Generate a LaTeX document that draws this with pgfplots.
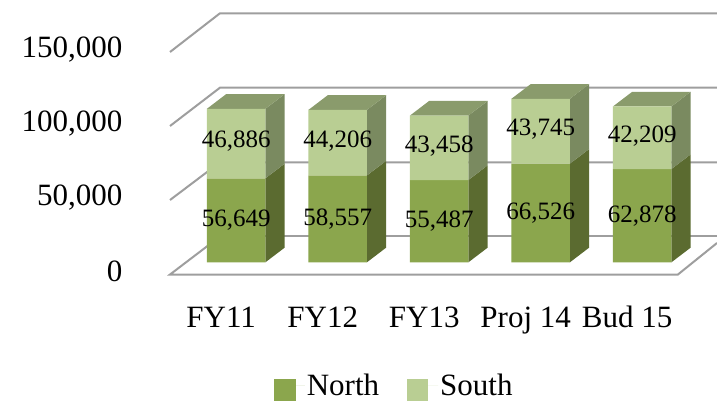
\documentclass[border=0pt]{standalone}
\usepackage{fontspec}
\setmainfont{Liberation Serif}
\usepackage{pgfplots}
\usepackage{pgfplotstable}
\pgfplotsset{compat=1.18}
\definecolor{northc}{HTML}{8BA64D}
\definecolor{southc}{HTML}{B9CE93}
\definecolor{northside}{HTML}{5B6B30}
\definecolor{southside}{HTML}{7A8A60}
\definecolor{topc}{HTML}{8A9B6C}
\definecolor{gridc}{HTML}{9E9E9E}
\pgfplotstableread{
x north south
0 56649 46886
1 58557 44206
2 55487 43458
3 66526 43745
4 62878 42209
}\budget
% one polygon of a bar's depth, with y given in thousands
\newcommand\facet[9]{%
  \edef\tmp{\noexpand\addplot[fill=#1,draw=none,forget plot] coordinates
    {(#2,#3e3)(#4,#5e3)(#6,#7e3)(#8,#9e3)} --cycle;}\tmp}
% side and top faces of a stacked bar: position, north and south in thousands
\newcommand\depth[3]{%
  \pgfmathsetmacro\xr{#1+0.288}\pgfmathsetmacro\xl{#1-0.288}%
  \pgfmathsetmacro\xrd{\xr+0.19}\pgfmathsetmacro\xld{\xl+0.19}%
  \pgfmathsetmacro\ya{#2}\pgfmathsetmacro\yb{#2+#3}%
  \pgfmathsetmacro\yz{9.912}\pgfmathsetmacro\yae{\ya+9.912}\pgfmathsetmacro\ybe{\yb+9.912}%
  \facet{northside}{\xr}{0}{\xrd}{\yz}{\xrd}{\yae}{\xr}{\ya}%
  \facet{southside}{\xr}{\ya}{\xrd}{\yae}{\xrd}{\ybe}{\xr}{\yb}%
  \facet{topc}{\xl}{\yb}{\xr}{\yb}{\xrd}{\ybe}{\xld}{\ybe}}
\begin{document}
\begin{tikzpicture}
\path[use as bounding box] (-126pt,-101pt) rectangle (591pt,300pt);
\begin{axis}[
  at={(0,0)},anchor=south west,
  scale only axis,width=591pt,height=300pt,
  xmin=-1.0857,xmax=4.737,ymin=-25421,ymax=176871,
  axis line style={draw=none},
  tick style={draw=none},
  xtick={0,1,2,3,4},
  xticklabels={FY11,FY12,FY13,Proj 14,Bud 15},
  ytick={0,50000,100000,150000},
  scaled y ticks=false,
  /pgf/number format/fixed,
  /pgf/number format/precision=0,
  /pgf/number format/assume math mode=true,
  /pgf/number format/1000 sep={,},
  yticklabel style={font=\fontsize{31}{33}\selectfont,yshift=-9.5pt,xshift=0pt,anchor=east},
  xticklabel style={font=\fontsize{31}{33}\selectfont,xshift=-15pt,yshift=-28pt,anchor=base,text height=0pt},
  legend columns=2,
  legend style={draw=none,fill=none,at={(axis cs:0.369,-93800)},anchor=south west,
    font=\fontsize{31}{33}\selectfont,inner sep=0pt,
    /tikz/every even column/.append style={column sep=26pt}},
]
% wall and floor rules behind the bars
\addplot[gridc,line width=2pt,forget plot] coordinates {(-0.652,42010)(-0.160,67431)(4.737,67431)};
\addplot[gridc,line width=2pt,forget plot] coordinates {(-0.652,91908)(-0.160,117734)(4.737,117734)};
\addplot[gridc,line width=2pt,forget plot] coordinates {(-0.652,141807)(-0.160,167903)(4.737,167903)};
\addplot[gridc,line width=2pt,forget plot] coordinates {(-0.160,17397)(4.737,17397)};
\addplot[gridc,line width=2pt,forget plot] coordinates {(-0.160,17397)(-0.652,-8227)(4.352,-8227)(4.737,13014)};
% depth faces
\depth{0}{56.649}{46.886}
\depth{1}{58.557}{44.206}
\depth{2}{55.487}{43.458}
\depth{3}{66.526}{43.745}
\depth{4}{62.878}{42.209}
% front faces
\addplot[ybar,stack plots=y,bar shift=0pt,bar width=0.576,fill=northc,draw=none,
  legend image code/.code={\fill[northc] (0pt,-16pt) rectangle (22pt,6pt);\path (0pt,0pt) -- (31pt,0pt);}]
  table[x=x,y=north]{\budget};
\addplot[ybar,stack plots=y,bar shift=0pt,bar width=0.576,fill=southc,draw=none,
  legend image code/.code={\fill[southc] (0pt,-16pt) rectangle (21pt,6pt);\path (0pt,0pt) -- (31pt,0pt);}]
  table[x=x,y=south]{\budget};
\legend{North,South}
% value labels centred on each segment
\addplot[draw=none,forget plot,stack plots=false,
  point meta=explicit,
  nodes near coords,
  every node near coord/.append style={anchor=center,font=\fontsize{25}{27}\selectfont,yshift=0pt}]
  table[x=x,y expr=\thisrow{north}/2,meta=north]{\budget};
\addplot[draw=none,forget plot,stack plots=false,
  point meta=explicit,
  nodes near coords,
  every node near coord/.append style={anchor=center,font=\fontsize{25}{27}\selectfont,yshift=2pt}]
  table[x=x,y expr=\thisrow{north}+\thisrow{south}/2,meta=south]{\budget};
\end{axis}
\end{tikzpicture}
\end{document}
